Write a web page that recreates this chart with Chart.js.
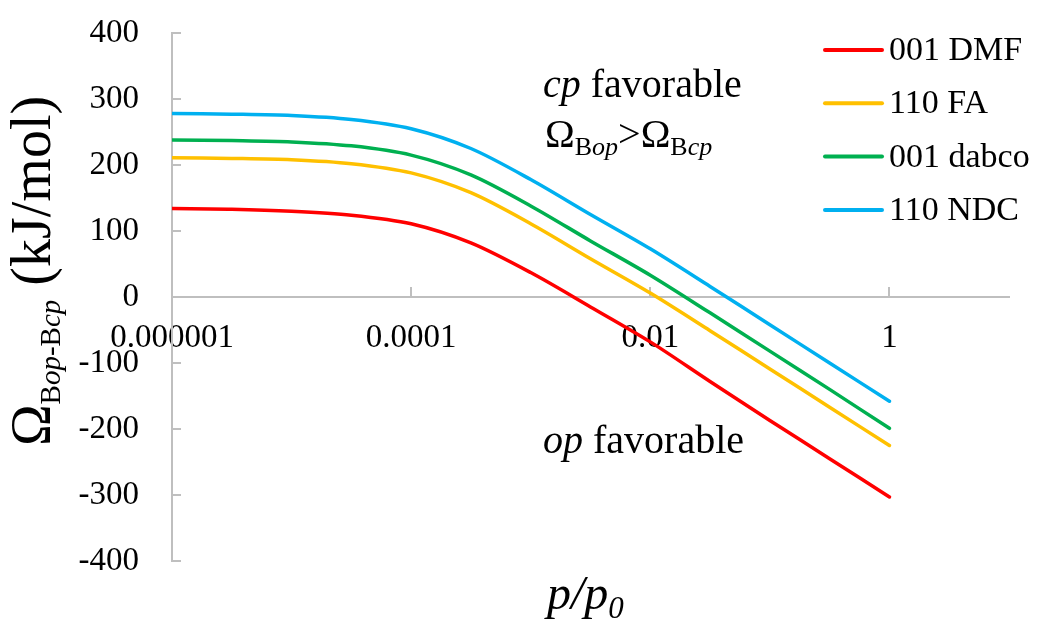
<!DOCTYPE html>
<html>
<head>
<meta charset="utf-8">
<script src="https://cdn.jsdelivr.net/npm/chart.js@4.4.1/dist/chart.umd.min.js"></script>
<style>
  html, body { margin: 0; padding: 0; background: #fff; }
  #wrap { width: 1038px; height: 621px; }
</style>
</head>
<body>
<div id="wrap"><canvas id="omegaChart" width="1038" height="621"></canvas></div>
<script>
// relative pressure p/p0 (log axis), half-decade steps
const pressures = [1e-6, 3.16e-6, 1e-5, 3.16e-5, 1e-4, 3.16e-4, 1e-3, 3.16e-3, 1e-2, 3.16e-2, 1e-1, 3.16e-1, 1];

// Omega(Bop) - Omega(Bcp), kJ/mol
const dmf001 = [134, 133, 130, 124, 111, 82, 37, -15, -68, -128, -187, -245, -303];
const fa110 = [211, 210, 208, 202, 188, 158, 111, 58, 6, -51, -109, -167, -225];
const dabco001 = [238, 237, 235, 229, 215, 185, 138, 85, 33, -24, -82, -140, -199];
const ndc110 = [278, 277, 275, 269, 255, 225, 178, 125, 73, 16, -42, -100, -158];

const seriesLabels = ['001 DMF', '110 FA', '001 dabco', '110 NDC'];
const seriesColors = ['#ff0000', '#ffc000', '#00b050', '#00b0f0'];

const xTicks = [1e-6, 1e-4, 1e-2, 1];
const xTickLabels = ['0.000001', '0.0001', '0.01', '1'];
const yTicks = [-400, -300, -200, -100, 0, 100, 200, 300, 400];

const SERIF = '"Liberation Serif", "Times New Roman", serif';
const AXIS_GREY = '#bfbfbf';

const toPoints = (values) => values.map((v, i) => ({ x: pressures[i], y: v }));

// draws a run of text pieces (different size / italic / baseline shift) left to right
const drawRuns = (ctx, x, y, runs) => {
    let cx = x;
    runs.forEach(run => {
        ctx.font = `${run.italic ? 'italic ' : ''}${run.size}px ${SERIF}`;
        ctx.fillText(run.text, cx, y + (run.dy || 0));
        cx += ctx.measureText(run.text).width;
    });
};

const decorations = {
    id: 'decorations',
    beforeDatasetsDraw(chart) {
        const { ctx, scales: { x, y } } = chart;
        const x0 = x.getPixelForValue(1e-6);
        const y0 = y.getPixelForValue(0);
        ctx.save();
        ctx.strokeStyle = AXIS_GREY;
        ctx.lineWidth = 2;
        ctx.beginPath();
        xTicks.forEach(v => {
            const px = Math.round(x.getPixelForValue(v));
            ctx.moveTo(px, y0);
            ctx.lineTo(px, y0 - 10);
        });
        yTicks.forEach(v => {
            const py = Math.round(y.getPixelForValue(v));
            ctx.moveTo(x0, py);
            ctx.lineTo(x0 + 9, py);
        });
        ctx.stroke();
        ctx.restore();
    },
    afterDraw(chart) {
        const { ctx } = chart;
        ctx.save();
        ctx.fillStyle = '#000';
        ctx.textBaseline = 'alphabetic';
        ctx.textAlign = 'left';

        // legend
        chart.data.datasets.forEach((ds, i) => {
            const ly = 50 + i * 53.3;
            ctx.strokeStyle = ds.borderColor;
            ctx.lineWidth = 4;
            ctx.lineCap = 'round';
            ctx.beginPath();
            ctx.moveTo(825, ly);
            ctx.lineTo(882, ly);
            ctx.stroke();
            ctx.font = `34px ${SERIF}`;
            ctx.textBaseline = 'middle';
            ctx.fillText(ds.label, 889, ly + 1);
            ctx.textBaseline = 'alphabetic';
        });

        // region notes
        drawRuns(ctx, 543, 97, [
            { text: 'cp', size: 40, italic: true },
            { text: ' favorable', size: 40 }
        ]);
        drawRuns(ctx, 545, 147, [
            { text: 'Ω', size: 40 },
            { text: 'B', size: 26, dy: 8 },
            { text: 'op', size: 26, italic: true, dy: 8 },
            { text: '>', size: 40 },
            { text: 'Ω', size: 40 },
            { text: 'B', size: 26, dy: 8 },
            { text: 'cp', size: 26, italic: true, dy: 8 }
        ]);
        drawRuns(ctx, 543, 453, [
            { text: 'op', size: 40, italic: true },
            { text: ' favorable', size: 40 }
        ]);

        // x axis title
        drawRuns(ctx, 547, 609, [
            { text: 'p/p', size: 48, italic: true },
            { text: '0', size: 31, italic: true, dy: 9 }
        ]);

        // y axis title, rotated
        ctx.translate(50, 446);
        ctx.rotate(-Math.PI / 2);
        drawRuns(ctx, 0, 0, [
            { text: 'Ω', size: 56 },
            { text: 'B', size: 29, dy: 10 },
            { text: 'op', size: 29, italic: true, dy: 10 },
            { text: '-B', size: 29, dy: 10 },
            { text: 'cp', size: 29, italic: true, dy: 10 },
            { text: ' (kJ/mol)', size: 56 }
        ]);
        ctx.restore();
    }
};

const datasets = [dmf001, fa110, dabco001, ndc110].map((values, i) => ({
    label: seriesLabels[i],
    data: toPoints(values),
    borderColor: seriesColors[i],
    backgroundColor: seriesColors[i],
    borderWidth: 3.5,
    pointRadius: 0,
    tension: 0.3,
    borderCapStyle: 'round',
    fill: false
}));

new Chart(document.getElementById('omegaChart'), {
    type: 'line',
    data: { datasets },
    options: {
        responsive: false,
        animation: false,
        devicePixelRatio: 1,
        layout: { padding: { left: 0, right: 29, top: 33, bottom: 60 } },
        plugins: {
            legend: { display: false },
            tooltip: { enabled: false }
        },
        scales: {
            x: {
                type: 'logarithmic',
                min: 1e-6,
                max: 10,
                position: { y: 0 },
                grid: { display: false, drawTicks: false },
                border: { color: AXIS_GREY, width: 2 },
                afterBuildTicks: (scale) => {
                    scale.ticks = xTicks.map(v => ({ value: v }));
                },
                ticks: {
                    autoSkip: false,
                    maxRotation: 0,
                    padding: 22,
                    color: '#000',
                    font: { family: SERIF, size: 33 },
                    callback: (value, index) => xTickLabels[index]
                }
            },
            y: {
                type: 'linear',
                min: -400,
                max: 400,
                grid: { display: false, drawTicks: false },
                border: { color: AXIS_GREY, width: 2 },
                afterBuildTicks: (scale) => {
                    scale.ticks = yTicks.map(v => ({ value: v }));
                },
                afterFit: (scale) => {
                    // keep the plot box fixed; labels at the ends may overhang
                    scale.width = 172;
                    scale.paddingTop = 0;
                    scale.paddingBottom = 0;
                },
                ticks: {
                    padding: 33,
                    color: '#000',
                    font: { family: SERIF, size: 33 }
                }
            }
        }
    },
    plugins: [decorations]
});
</script>
</body>
</html>
